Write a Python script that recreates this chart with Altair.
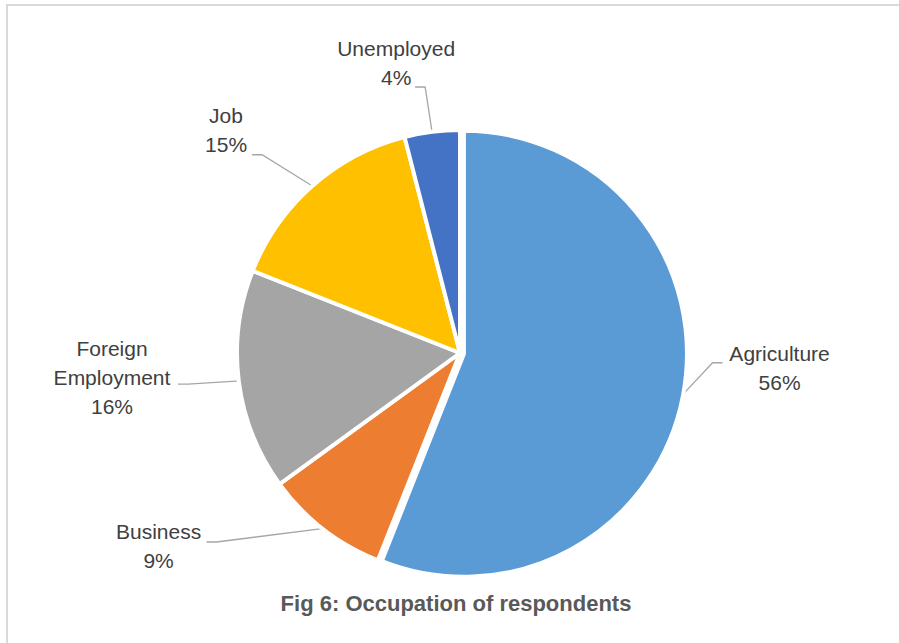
import math
import altair as alt
import pandas as pd

# ---- data ----
categories = ["Agriculture", "Business", "Foreign Employment", "Job", "Unemployed"]
label_text = ["Agriculture\n56%", "Business\n9%", "Foreign\nEmployment\n16%", "Job\n15%", "Unemployed\n4%"]
shares = [56, 9, 16, 15, 4]
colors = ["#5B9BD5", "#ED7D31", "#A5A5A5", "#FFC000", "#4472C4"]
title_text = "Fig 6: Occupation of respondents"

# ---- layout (pixels / degrees) ----
W, H = 899, 643
CX, CY, R = 460, 353, 223
LH = 29
explode = [4, 0, 0, 0, 0]
label_angle = [93.0, 237.1, 265.7, 313.4, 347.5]
label_radius = [320, 359, 349, 322, 295]
leader_end_dx = [-57, 48, 66, 26, 19]
leader_end_dy = [-7, -6, 5, 23, 22]

total = sum(shares)
mids = []
cum = 0
for s in shares:
    mids.append((cum + s / 2) / total * 360)
    cum += s

pie_df = pd.DataFrame({
    "category": categories,
    "share": shares,
    "idx": list(range(len(categories))),
    "cx": [CX + e * math.sin(math.radians(m)) for e, m in zip(explode, mids)],
    "cy": [CY - e * math.cos(math.radians(m)) for e, m in zip(explode, mids)],
})

lab_rows = []
line_rows = []
for i, cat in enumerate(categories):
    a = math.radians(label_angle[i])
    lx = CX + label_radius[i] * math.sin(a)
    ly = CY - label_radius[i] * math.cos(a)
    n = label_text[i].count("\n") + 1
    lab_rows.append({"category": cat, "text": label_text[i], "lx": lx, "ly": ly - (n - 1) / 2 * LH})
    m = math.radians(mids[i])
    ecx = pie_df.loc[i, "cx"]
    ecy = pie_df.loc[i, "cy"]
    sx = ecx + (R - 1) * math.sin(m)
    sy = ecy - (R - 1) * math.cos(m)
    endx = lx + leader_end_dx[i]
    endy = ly + leader_end_dy[i]
    elbx = endx + (10 if endx < CX else -10)
    line_rows += [
        {"category": cat, "pt": 0, "x": sx, "y": sy},
        {"category": cat, "pt": 1, "x": elbx, "y": endy},
        {"category": cat, "pt": 2, "x": endx, "y": endy},
    ]
lab_df = pd.DataFrame(lab_rows)
line_df = pd.DataFrame(line_rows)

pie = alt.Chart(pie_df).mark_arc(outerRadius=R, stroke="white", strokeWidth=4).encode(
    theta=alt.Theta("share:Q", stack=True),
    color=alt.Color("category:N", scale=alt.Scale(domain=categories, range=colors), legend=None),
    order=alt.Order("idx:Q"),
    x=alt.X("cx:Q", scale=None),
    y=alt.Y("cy:Q", scale=None),
)

leaders = alt.Chart(line_df).mark_line(color="#A6A6A6", strokeWidth=1.3).encode(
    x=alt.X("x:Q", scale=None),
    y=alt.Y("y:Q", scale=None),
    detail="category:N",
    order="pt:Q",
)

labels = alt.Chart(lab_df).mark_text(
    font="Liberation Sans", fontSize=21, color="#404040", lineBreak="\n",
    lineHeight=LH, align="center", baseline="middle",
).encode(
    x=alt.X("lx:Q", scale=None),
    y=alt.Y("ly:Q", scale=None),
    text="text:N",
)

title = alt.Chart(pd.DataFrame({"t": [title_text]})).mark_text(
    font="Liberation Sans", fontSize=22, fontWeight="bold", color="#595959",
    align="center", baseline="middle",
).encode(x=alt.value(456), y=alt.value(604), text="t:N")

border_top = alt.Chart(pd.DataFrame({"a": [0]})).mark_rule(color="#D9D9D9", strokeWidth=2).encode(
    x=alt.value(6), x2=alt.value(W), y=alt.value(5)
)
border_left = alt.Chart(pd.DataFrame({"a": [0]})).mark_rule(color="#D9D9D9", strokeWidth=2).encode(
    x=alt.value(7), y=alt.value(5), y2=alt.value(H)
)

chart = alt.layer(border_top, border_left, leaders, pie, labels, title).properties(
    width=W, height=H,
    autosize=alt.AutoSizeParams(type="none"),
    padding=0,
    background="white",
).configure_view(stroke=None)

chart.save("out.html", embed_options={"renderer": "svg", "actions": False})
